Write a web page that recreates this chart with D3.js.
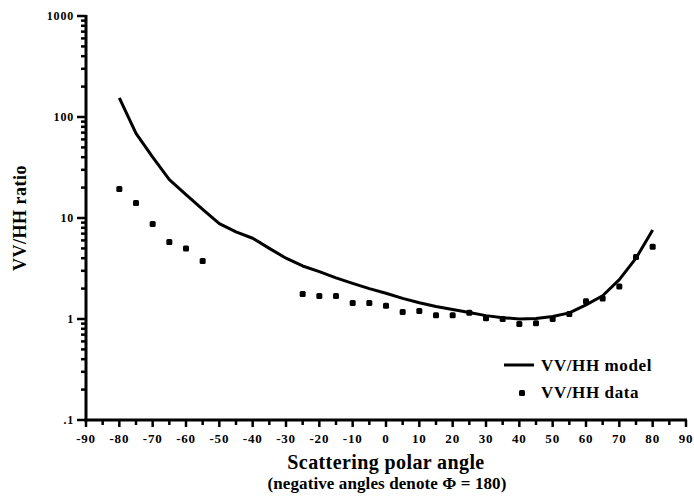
<!DOCTYPE html>
<html>
<head>
<meta charset="utf-8">
<script src="https://cdn.jsdelivr.net/npm/d3@7"></script>
<style>
  html, body { margin: 0; padding: 0; background: #fff; }
  text { font-family: 'Liberation Serif', 'DejaVu Serif', serif; font-weight: bold; fill: #000; }
</style>
</head>
<body>
<svg id="chart" width="694" height="498"></svg>
<script>
// model curve, every 5 degrees
const modelAngles = [-80, -75, -70, -65, -60, -55, -50, -45, -40, -35, -30, -25, -20, -15, -10, -5,
  0, 5, 10, 15, 20, 25, 30, 35, 40, 45, 50, 55, 60, 65, 70, 75, 80]
const modelRatio = [155, 69, 40, 24, 17, 12.2, 8.8, 7.3, 6.3, 5.0, 4.0, 3.35, 2.95, 2.55, 2.25, 2.0,
  1.8, 1.6, 1.45, 1.33, 1.24, 1.16, 1.08, 1.03, 1.0, 1.01, 1.06, 1.15, 1.38, 1.7, 2.45, 4.0, 7.6]

// measured points
const dataAngles = [-80, -75, -70, -65, -60, -55, -25, -20, -15, -10, -5, 0, 5, 10, 15, 20,
  25, 30, 35, 40, 45, 50, 55, 60, 65, 70, 75, 80]
const dataRatio = [19.4, 14.1, 8.7, 5.8, 5.0, 3.75, 1.77, 1.69, 1.69, 1.44, 1.44, 1.35, 1.17, 1.2, 1.09, 1.09,
  1.15, 1.02, 1.0, 0.89, 0.91, 1.0, 1.12, 1.5, 1.6, 2.1, 4.1, 5.2]

const xTicks = d3.range(-90, 91, 10)
const yTicks = [0.1, 1, 10, 100, 1000]
const yTickLabels = ['.1', '1', '10', '100', '1000']

const svg = d3.select('#chart')

const x = d3.scaleLinear().domain([-90, 90]).range([86, 686])
const y = d3.scaleLog().domain([0.1, 1000]).range([420, 16])

// y minor ticks (2..9 in each decade)
let yMinor = []
for (let d = 0.1; d < 1000; d *= 10) {
  for (let k = 2; k <= 9; k++) yMinor.push(d * k)
}

const yAxis = svg.append('g')
yAxis.selectAll('line.minor')
  .data(yMinor)
  .enter()
  .append('line')
  .attr('x1', x(-90) - 5)
  .attr('x2', x(-90))
  .attr('y1', d => y(d))
  .attr('y2', d => y(d))
  .attr('stroke', '#000')
  .attr('stroke-width', 2.5)
yAxis.selectAll('line.major')
  .data(yTicks)
  .enter()
  .append('line')
  .attr('x1', x(-90) - 9)
  .attr('x2', x(-90))
  .attr('y1', d => y(d))
  .attr('y2', d => y(d))
  .attr('stroke', '#000')
  .attr('stroke-width', 2.5)
yAxis.selectAll('text')
  .data(yTicks)
  .enter()
  .append('text')
  .attr('x', x(-90) - 12)
  .attr('y', d => y(d))
  .attr('dy', '0.35em')
  .attr('text-anchor', 'end')
  .style('font-size', '12px')
  .style('letter-spacing', '0.8px')
  .text((d, i) => yTickLabels[i])

// x ticks every 5 degrees
const xAxis = svg.append('g')
xAxis.selectAll('line')
  .data(d3.range(-90, 91, 5))
  .enter()
  .append('line')
  .attr('x1', d => x(d))
  .attr('x2', d => x(d))
  .attr('y1', y(0.1))
  .attr('y2', d => y(0.1) + (d % 10 === 0 ? 7 : 5))
  .attr('stroke', '#000')
  .attr('stroke-width', 2.5)
xAxis.selectAll('text')
  .data(xTicks)
  .enter()
  .append('text')
  .attr('x', d => x(d))
  .attr('y', y(0.1) + 18)
  .attr('dy', '0.35em')
  .attr('text-anchor', 'middle')
  .style('font-size', '13px')
  .style('letter-spacing', '0.8px')
  .text(d => d)

// axis lines
svg.append('line')
  .attr('x1', x(-90)).attr('x2', x(-90))
  .attr('y1', y(1000) - 1).attr('y2', y(0.1) + 1.5)
  .attr('stroke', '#000').attr('stroke-width', 3)
svg.append('line')
  .attr('x1', x(-90) - 1.5).attr('x2', x(90) + 1)
  .attr('y1', y(0.1)).attr('y2', y(0.1))
  .attr('stroke', '#000').attr('stroke-width', 3)

// model line
const line = d3.line()
  .x(d => x(d[0]))
  .y(d => y(d[1]))
svg.append('path')
  .datum(d3.zip(modelAngles, modelRatio))
  .attr('d', line)
  .attr('fill', 'none')
  .attr('stroke', '#000')
  .attr('stroke-width', 3)
  .attr('stroke-linejoin', 'round')

// data points
svg.append('g')
  .selectAll('rect')
  .data(d3.zip(dataAngles, dataRatio))
  .enter()
  .append('rect')
  .attr('x', d => x(d[0]) - 3)
  .attr('y', d => y(d[1]) - 3)
  .attr('width', 6)
  .attr('height', 6)
  .attr('rx', 1.5)
  .attr('fill', '#000')

// axis titles
svg.append('text')
  .attr('transform', `translate(20, ${(y(1000) + y(0.1)) / 2}) rotate(-90)`)
  .attr('text-anchor', 'middle')
  .attr('dy', '0.35em')
  .style('font-size', '18px')
  .style('letter-spacing', '0.5px')
  .text('VV/HH  ratio')

svg.append('text')
  .attr('x', 386)
  .attr('y', 469)
  .attr('text-anchor', 'middle')
  .style('font-size', '20px')
  .style('letter-spacing', '0.4px')
  .text('Scattering polar angle')
svg.append('text')
  .attr('x', 387)
  .attr('y', 489)
  .attr('text-anchor', 'middle')
  .style('font-size', '17px')
  .style('letter-spacing', '0.1px')
  .text('(negative angles denote \u03a6 = 180)')

// legend
const legend = svg.append('g')
legend.append('line')
  .attr('x1', 504).attr('x2', 534)
  .attr('y1', 365).attr('y2', 365)
  .attr('stroke', '#000').attr('stroke-width', 3)
legend.append('rect')
  .attr('x', 519).attr('y', 390)
  .attr('width', 6).attr('height', 6)
  .attr('rx', 1.5)
  .attr('fill', '#000')
legend.append('text')
  .attr('x', 541).attr('y', 365)
  .attr('dy', '0.35em')
  .style('font-size', '17px')
  .style('letter-spacing', '0.6px')
  .text('VV/HH model')
legend.append('text')
  .attr('x', 541).attr('y', 392)
  .attr('dy', '0.35em')
  .style('font-size', '17px')
  .style('letter-spacing', '0.6px')
  .text('VV/HH data')
</script>
</body>
</html>
